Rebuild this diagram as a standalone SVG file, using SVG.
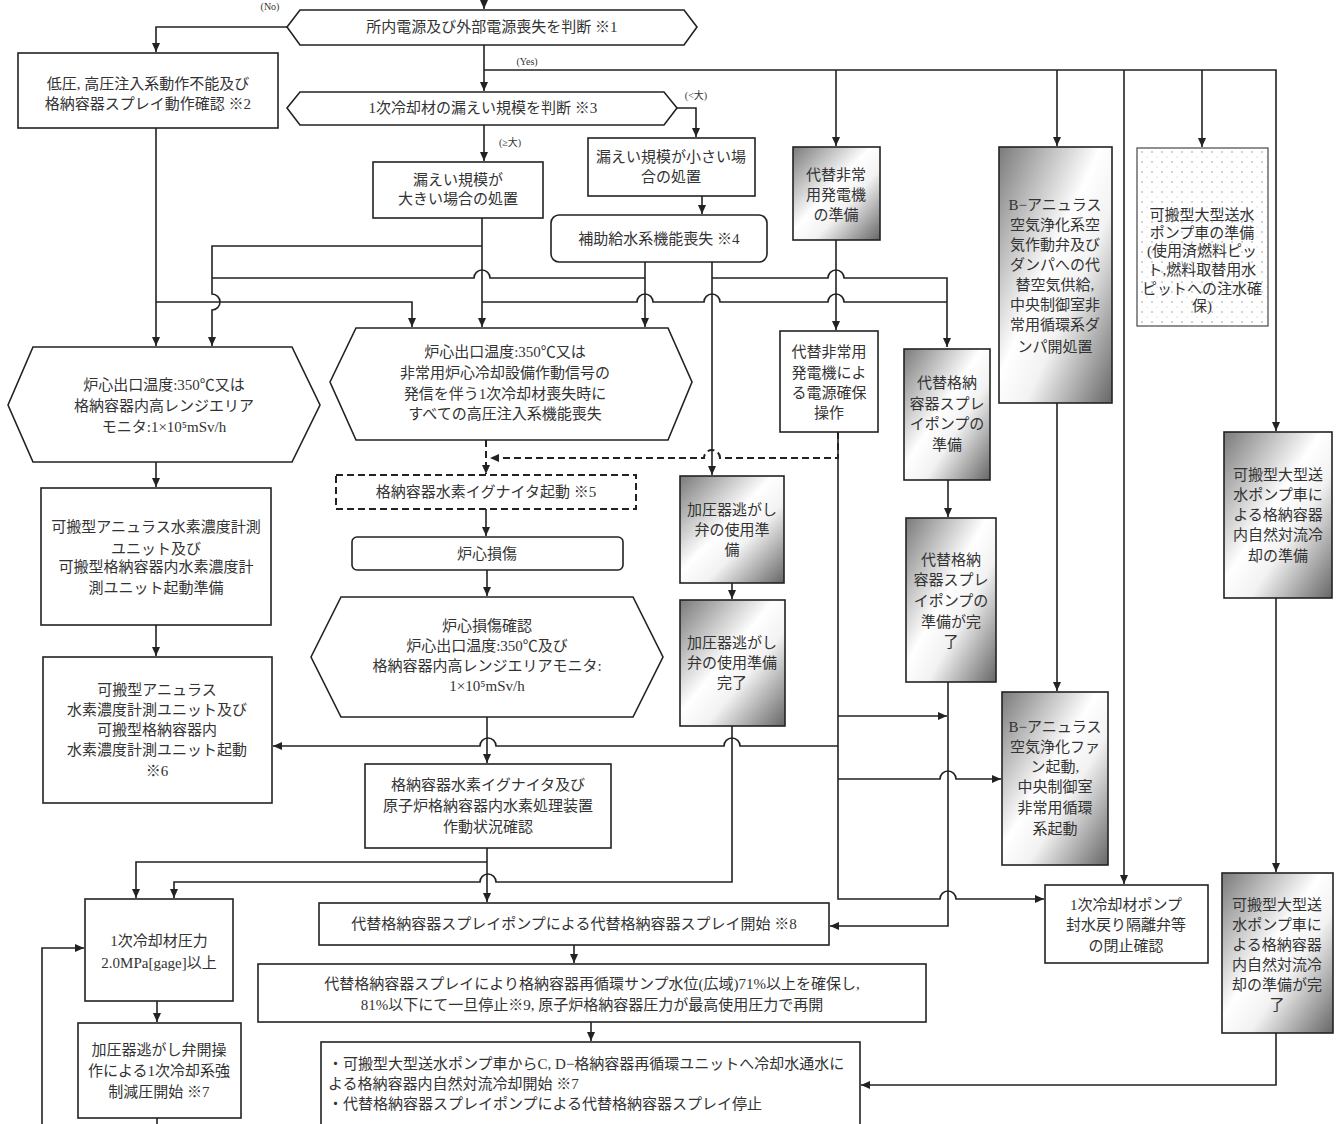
<svg xmlns="http://www.w3.org/2000/svg" width="1338" height="1124" viewBox="0 0 1338 1124">
<defs>
<style>
.n{fill:#fff;stroke:#222;stroke-width:1.6}
.gr{fill:url(#g);stroke:#222;stroke-width:1.6}
.dt{fill:url(#dots);stroke:#555;stroke-width:1.3}
.ds{fill:#fff;stroke:#222;stroke-width:2;stroke-dasharray:7 4}
text{font-family:"Liberation Serif","Noto Sans CJK JP",serif;font-size:15px;fill:#333;text-anchor:middle;dominant-baseline:central}
.tl{text-anchor:start}
.lb{font-size:10px}
.c{fill:none;stroke:#222;stroke-width:1.6}
.d{stroke-dasharray:7 4;stroke-width:2}
</style>
<linearGradient id="g" x1="0" y1="0" x2="1" y2="1">
<stop offset="0" stop-color="#7a7a7a"/>
<stop offset="0.45" stop-color="#ffffff"/>
<stop offset="0.62" stop-color="#f2f2f2"/>
<stop offset="1" stop-color="#666666"/>
</linearGradient>
<pattern id="dots" width="10" height="10" patternUnits="userSpaceOnUse">
<rect width="10" height="10" fill="#fff"/>
<circle cx="2" cy="2" r="0.8" fill="#999"/>
<circle cx="7" cy="7" r="0.6" fill="#bbb"/>
</pattern>
<marker id="a" markerWidth="10" markerHeight="10" refX="9" refY="5" orient="auto" markerUnits="userSpaceOnUse">
<path d="M0,1 L9,5 L0,9 Z" fill="#222"/>
</marker>
</defs>
<rect width="1338" height="1124" fill="#fff"/>

<g id="connectors">
<path class="c" marker-end="url(#a)" d="M484,0 V9"/>
<path class="c" marker-end="url(#a)" d="M287,27 H156 V52"/>
<path class="c" marker-end="url(#a)" d="M484,45 V91"/>
<path class="c" marker-end="url(#a)" d="M484,70 H1276 V431"/>
<path class="c" marker-end="url(#a)" d="M836,70 V146"/>
<path class="c" marker-end="url(#a)" d="M1057,70 V146"/>
<path class="c" marker-end="url(#a)" d="M1124,70 V884"/>
<path class="c" marker-end="url(#a)" d="M1202,70 V147"/>
<path class="c" marker-end="url(#a)" d="M484,125 V161"/>
<path class="c" marker-end="url(#a)" d="M677,108 H696 V137"/>
<path class="c" marker-end="url(#a)" d="M702,196 V214"/>
<path class="c" marker-end="url(#a)" d="M156,128 V346"/>
<path class="c" marker-end="url(#a)" d="M156,302 H412 V327"/>
<path class="c" marker-end="url(#a)" d="M482,218 V327"/>
<path class="c" marker-end="url(#a)" d="M482,246 H212 V294 A8,8 0 0 1 212,310 V346"/>
<path class="c" d="M645,278 H490 A8,8 0 0 0 474,278 H212"/>
<path class="c" marker-end="url(#a)" d="M645,262 V327"/>
<path class="c" marker-end="url(#a)" d="M712,262 V475"/>
<path class="c" marker-end="url(#a)" d="M712,278 H828 A8,8 0 0 1 844,278 H947 V347"/>
<path class="c" d="M482,302 H637 A8,8 0 0 1 653,302 H704 A8,8 0 0 1 720,302 H828 A8,8 0 0 1 844,302 H947"/>
<path class="c" marker-end="url(#a)" d="M836,240 V330"/>
<path class="c d" marker-end="url(#a)" d="M486,440 V474"/>
<path class="c d" marker-end="url(#a)" d="M838,432 V458 H720 A8,8 0 0 0 704,458 H490"/>
<path class="c" marker-end="url(#a)" d="M948,480 V517"/>
<path class="c" marker-end="url(#a)" d="M1057,403 V691"/>
<path class="c" marker-end="url(#a)" d="M732,583 V599"/>
<path class="c" marker-end="url(#a)" d="M1276,598 V872"/>
<path class="c" marker-end="url(#a)" d="M838,432 V899 H940 A8,8 0 0 1 956,899 H1044"/>
<path class="c" marker-end="url(#a)" d="M838,716 H947"/>
<path class="c" marker-end="url(#a)" d="M838,779 H940 A8,8 0 0 1 956,779 H1001"/>
<path class="c" marker-end="url(#a)" d="M838,746 H740 A8,8 0 0 0 724,746 H496 A8,8 0 0 0 480,746 H273"/>
<path class="c" marker-end="url(#a)" d="M948,682 V926 H830"/>
<path class="c" marker-end="url(#a)" d="M732,726 V882 H496 A8,8 0 0 0 480,882 H174 V898"/>
<path class="c" marker-end="url(#a)" d="M486,509 V536"/>
<path class="c" marker-end="url(#a)" d="M487,570 V596"/>
<path class="c" marker-end="url(#a)" d="M487,717 V763"/>
<path class="c" marker-end="url(#a)" d="M487,848 V902"/>
<path class="c" marker-end="url(#a)" d="M487,862 H136 V898"/>
<path class="c" marker-end="url(#a)" d="M156,462 V487"/>
<path class="c" marker-end="url(#a)" d="M156,625 V656"/>
<path class="c" marker-end="url(#a)" d="M157,1001 V1022"/>
<path class="c" d="M157,1118 V1124"/>
<path class="c" marker-end="url(#a)" d="M42,1124 V948 H84"/>
<path class="c" marker-end="url(#a)" d="M574,945 V963"/>
<path class="c" marker-end="url(#a)" d="M591,1022 V1041"/>
<path class="c" marker-end="url(#a)" d="M1276,1033 V1085 H861"/>
</g>

<g id="labels">
<text class="lb" x="270" y="6">(No)</text>
<text class="lb" x="527" y="61">(Yes)</text>
<text class="lb" x="696" y="95">(&lt;大)</text>
<text class="lb" x="510" y="142">(≥大)</text>
</g>

<g id="n1"><polygon class="n" points="287,27 300,10 684,10 697,27 684,45 300,45"/><text x="492" y="27">所内電源及び外部電源喪失を判断 ※1</text></g>
<g id="n2"><rect class="n" x="18" y="53" width="260" height="75"/><text x="148" y="84">低圧, 高圧注入系動作不能及び</text><text x="148" y="104">格納容器スプレイ動作確認 ※2</text></g>
<g id="n3"><polygon class="n" points="287,108 300,92 664,92 677,108 664,125 300,125"/><text x="483" y="108">1次冷却材の漏えい規模を判断 ※3</text></g>
<g id="n4"><rect class="n" x="373" y="162" width="170" height="56"/><text x="458" y="180">漏えい規模が</text><text x="458" y="199">大きい場合の処置</text></g>
<g id="n5"><rect class="n" x="588" y="138" width="167" height="58"/><text x="671" y="157">漏えい規模が小さい場</text><text x="671" y="177">合の処置</text></g>
<g id="n6"><rect class="n" x="551" y="215" width="216" height="47" rx="8"/><text x="659" y="239">補助給水系機能喪失 ※4</text></g>
<g id="n7"><rect class="gr" x="793" y="147" width="87" height="93"/><text x="836" y="175">代替非常</text><text x="836" y="195">用発電機</text><text x="836" y="215">の準備</text></g>
<g id="n8"><rect class="gr" x="999" y="147" width="113" height="256"/><text x="1055" y="205">B−アニュラス</text><text x="1055" y="225">空気浄化系空</text><text x="1055" y="245">気作動弁及び</text><text x="1055" y="265">ダンパへの代</text><text x="1055" y="285">替空気供給,</text><text x="1055" y="305">中央制御室非</text><text x="1055" y="325">常用循環系ダ</text><text x="1055" y="347">ンパ開処置</text></g>
<g id="n9"><rect class="dt" x="1137" y="148" width="131" height="178"/><text x="1202" y="215">可搬型大型送水</text><text x="1202" y="233">ポンプ車の準備</text><text x="1202" y="251">(使用済燃料ピッ</text><text x="1202" y="270">ト,燃料取替用水</text><text x="1202" y="289">ピットへの注水確</text><text x="1202" y="306">保)</text></g>
<g id="n10"><polygon class="n" points="8,405 33,347 292,347 320,405 292,462 33,462"/><text x="164" y="385">炉心出口温度:350℃又は</text><text x="164" y="406">格納容器内高レンジエリア</text><text x="164" y="427">モニタ:1×10⁵mSv/h</text></g>
<g id="n11"><polygon class="n" points="330,382 356,328 668,328 692,382 668,440 356,440"/><text x="505" y="352">炉心出口温度:350℃又は</text><text x="505" y="373">非常用炉心冷却設備作動信号の</text><text x="505" y="394">発信を伴う1次冷却材喪失時に</text><text x="505" y="414">すべての高圧注入系機能喪失</text></g>
<g id="n12"><rect class="n" x="780" y="331" width="98" height="101"/><text x="829" y="352">代替非常用</text><text x="829" y="373">発電機によ</text><text x="829" y="393">る電源確保</text><text x="829" y="413">操作</text></g>
<g id="n13"><rect class="gr" x="904" y="349" width="86" height="131"/><text x="947" y="383">代替格納</text><text x="947" y="404">容器スプレ</text><text x="947" y="424">イポンプの</text><text x="947" y="445">準備</text></g>
<g id="n14"><rect class="ds" x="336" y="475" width="300" height="34"/><text x="486" y="492">格納容器水素イグナイタ起動 ※5</text></g>
<g id="n15"><rect class="gr" x="680" y="476" width="104" height="107"/><text x="732" y="510">加圧器逃がし</text><text x="732" y="530">弁の使用準</text><text x="732" y="550">備</text></g>
<g id="n16"><rect class="n" x="41" y="488" width="230" height="137"/><text x="156" y="527">可搬型アニュラス水素濃度計測</text><text x="156" y="549">ユニット及び</text><text x="156" y="567">可搬型格納容器内水素濃度計</text><text x="156" y="588">測ユニット起動準備</text></g>
<g id="n17"><rect class="n" x="352" y="537" width="271" height="33" rx="5"/><text x="487" y="554">炉心損傷</text></g>
<g id="n18"><polygon class="n" points="311,657 341,597 633,597 663,657 633,717 341,717"/><text x="487" y="626">炉心損傷確認</text><text x="487" y="646">炉心出口温度:350℃及び</text><text x="487" y="666">格納容器内高レンジエリアモニタ:</text><text x="487" y="686">1×10⁵mSv/h</text></g>
<g id="n19"><rect class="gr" x="680" y="600" width="105" height="126"/><text x="732" y="643">加圧器逃がし</text><text x="732" y="663">弁の使用準備</text><text x="732" y="683">完了</text></g>
<g id="n20"><rect class="gr" x="906" y="518" width="90" height="164"/><text x="951" y="560">代替格納</text><text x="951" y="580">容器スプレ</text><text x="951" y="601">イポンプの</text><text x="951" y="622">準備が完</text><text x="951" y="642">了</text></g>
<g id="n21"><rect class="gr" x="1224" y="432" width="108" height="166"/><text x="1278" y="475">可搬型大型送</text><text x="1278" y="495">水ポンプ車に</text><text x="1278" y="515">よる格納容器</text><text x="1278" y="535">内自然対流冷</text><text x="1278" y="556">却の準備</text></g>
<g id="n22"><rect class="gr" x="1002" y="692" width="106" height="173"/><text x="1055" y="727">B−アニュラス</text><text x="1055" y="747">空気浄化ファ</text><text x="1055" y="767">ン起動,</text><text x="1055" y="787">中央制御室</text><text x="1055" y="808">非常用循環</text><text x="1055" y="829">系起動</text></g>
<g id="n23"><rect class="n" x="43" y="657" width="229" height="146"/><text x="157" y="690">可搬型アニュラス</text><text x="157" y="710">水素濃度計測ユニット及び</text><text x="157" y="730">可搬型格納容器内</text><text x="157" y="750">水素濃度計測ユニット起動</text><text x="157" y="771">※6</text></g>
<g id="n24"><rect class="n" x="365" y="764" width="246" height="84"/><text x="488" y="785">格納容器水素イグナイタ及び</text><text x="488" y="806">原子炉格納容器内水素処理装置</text><text x="488" y="827">作動状況確認</text></g>
<g id="n25"><rect class="n" x="1045" y="885" width="163" height="78"/><text x="1126" y="905">1次冷却材ポンプ</text><text x="1126" y="925">封水戻り隔離弁等</text><text x="1126" y="946">の閉止確認</text></g>
<g id="n26"><rect class="gr" x="1222" y="873" width="111" height="160"/><text x="1277" y="905">可搬型大型送</text><text x="1277" y="925">水ポンプ車に</text><text x="1277" y="945">よる格納容器</text><text x="1277" y="965">内自然対流冷</text><text x="1277" y="985">却の準備が完</text><text x="1277" y="1005">了</text></g>
<g id="n27"><rect class="n" x="85" y="899" width="148" height="102"/><text x="159" y="941">1次冷却材圧力</text><text x="159" y="963">2.0MPa[gage]以上</text></g>
<g id="n28"><rect class="n" x="319" y="903" width="510" height="42"/><text x="574" y="924">代替格納容器スプレイポンプによる代替格納容器スプレイ開始 ※8</text></g>
<g id="n29"><rect class="n" x="258" y="964" width="668" height="58"/><text x="592" y="984">代替格納容器スプレイにより格納容器再循環サンプ水位(広域)71%以上を確保し,</text><text x="592" y="1005">81%以下にて一旦停止※9, 原子炉格納容器圧力が最高使用圧力で再開</text></g>
<g id="n30"><rect class="n" x="78" y="1023" width="163" height="95"/><text x="159" y="1050">加圧器逃がし弁開操</text><text x="159" y="1071">作による1次冷却系強</text><text x="159" y="1092">制減圧開始 ※7</text></g>
<g id="n31"><rect class="n" x="321" y="1042" width="539" height="90"/><text class="tl" x="328" y="1064">・可搬型大型送水ポンプ車からC, D−格納容器再循環ユニットへ冷却水通水に</text><text class="tl" x="328" y="1084">よる格納容器内自然対流冷却開始 ※7</text><text class="tl" x="328" y="1104">・代替格納容器スプレイポンプによる代替格納容器スプレイ停止</text></g>
</svg>
